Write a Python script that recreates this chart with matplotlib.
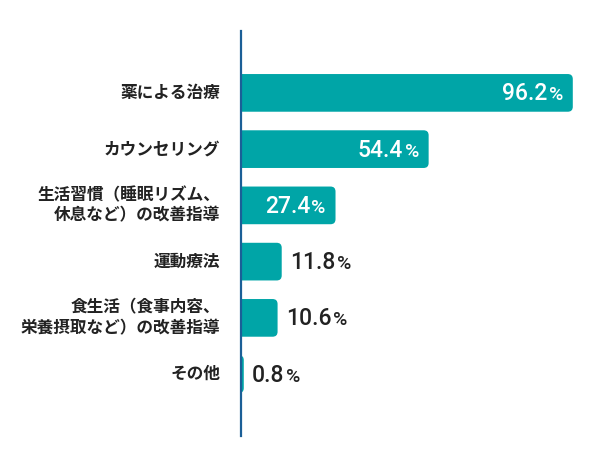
import matplotlib.pyplot as plt
from matplotlib.patches import FancyBboxPatch

CATEGORIES = [
    '薬による治療',
    'カウンセリング',
    '生活習慣（睡眠リズム、\n休息など）の改善指導',
    '運動療法',
    '食生活（食事内容、\n栄養摂取など）の改善指導',
    'その他',
]
VALUES = [96.2, 54.4, 27.4, 11.8, 10.6, 0.8]
INSIDE = [True, True, True, False, False, False]  # white label inside the bar

BAR_COLOR = '#00a5a7'
AXIS_COLOR = '#1b5f97'
TEXT_COLOR = '#222222'
JP_FONT = ['Noto Sans CJK JP', 'DejaVu Sans']
NUM_FONT = ['Roboto', 'DejaVu Sans']


def main():
    fig = plt.figure(figsize=(6.0, 4.67), dpi=100)
    ax = fig.add_axes([0.4017, 0.0664, 0.5817, 0.8672])
    ax.set_xlim(0, 101.2)
    ax.set_ylim(len(VALUES) - 1 + 1.1, -1.1)

    bar_h = 0.67
    px_x = 3.45      # pixels per % unit
    px_y = 56.2      # pixels per category
    radius = 5 / px_x
    aspect = (5 / px_y) / radius

    for i, (label, val, inside) in enumerate(zip(CATEGORIES, VALUES, INSIDE)):
        # rounded bar, starting left of the axis so only the right corners show
        x0 = -2
        w = val - x0
        r = min(radius, w / 2)
        bar = FancyBboxPatch((x0, i - bar_h / 2), w, bar_h,
                             boxstyle=f'round,pad=0,rounding_size={r}',
                             mutation_aspect=aspect,
                             facecolor=BAR_COLOR, edgecolor='none', zorder=1)
        ax.add_patch(bar)

        # category label
        ax.annotate(label, xy=(0, i), xytext=(-15, 0), textcoords='offset points',
                    ha='right', va='center', fontsize=12, fontweight='bold',
                    family=JP_FONT, color=TEXT_COLOR, linespacing=1.15,
                    annotation_clip=False)

        # value label, % drawn smaller
        base_y = i + 0.135
        num = f'{val:.1f}'
        color = 'white' if inside else TEXT_COLOR
        if inside:
            pct = ax.annotate('%', xy=(val, base_y), xytext=(-7, 0),
                              textcoords='offset points', ha='right', va='baseline',
                              fontsize=14, family=NUM_FONT, fontweight='medium',
                              color=color)
            ax.annotate(num, xy=(0, base_y), xycoords=(pct, 'data'),
                        xytext=(-1, 0), textcoords='offset points',
                        ha='right', va='baseline', fontsize=16.5,
                        family=NUM_FONT, fontweight='medium', color=color)
        else:
            t = ax.annotate(num, xy=(val, base_y), xytext=(6, 0),
                            textcoords='offset points', ha='left', va='baseline',
                            fontsize=16.5, family=NUM_FONT, fontweight='medium',
                            color=color)
            ax.annotate('%', xy=(1, base_y), xycoords=(t, 'data'),
                        xytext=(1, 0), textcoords='offset points',
                        ha='left', va='baseline', fontsize=14,
                        family=NUM_FONT, fontweight='medium', color=color)

    for side in ['top', 'right', 'bottom']:
        ax.spines[side].set_visible(False)
    ax.spines['left'].set_color(AXIS_COLOR)
    ax.spines['left'].set_linewidth(1.6)
    ax.set_xticks([])
    ax.set_yticks([])

    fig.savefig('out.png', dpi=100, facecolor='white')


if __name__ == "__main__":
    main()
